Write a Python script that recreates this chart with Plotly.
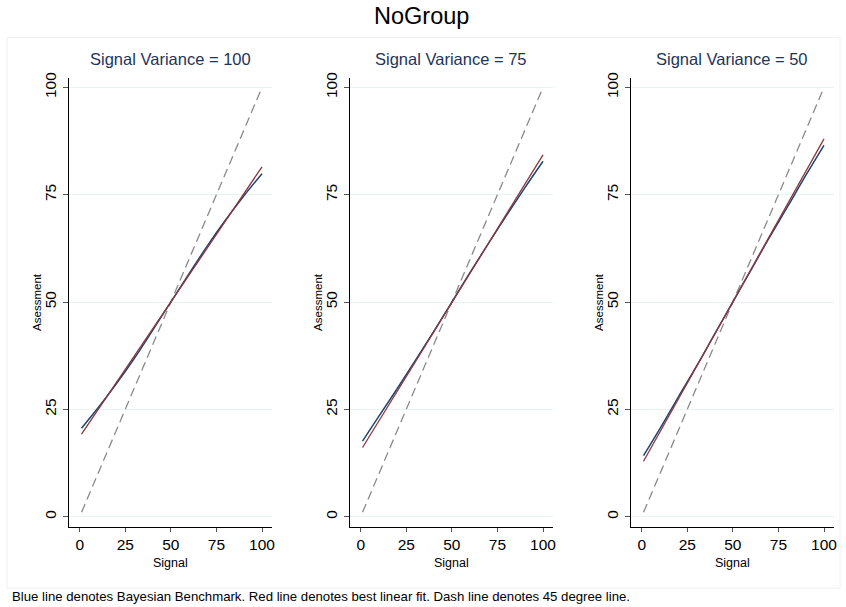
import plotly.graph_objects as go

# ---- data ----
panel_titles = ["Signal Variance = 100", "Signal Variance = 75", "Signal Variance = 50"]
signal = [1, 10, 20, 30, 40, 50, 60, 70, 80, 90, 100]
bayes_100 = [20.6, 25.3, 30.9, 36.9, 43.4, 50.0, 56.6, 63.1, 69.1, 74.7, 79.9]
fit_100 = [19.2, 24.9, 31.1, 37.4, 43.7, 50.0, 56.3, 62.6, 68.9, 75.2, 81.5]
bayes_75 = [17.6, 23.4, 29.8, 36.4, 43.1, 50.0, 56.9, 63.6, 70.2, 76.6, 82.8]
fit_75 = [16.1, 22.3, 29.2, 36.1, 43.0, 49.9, 56.8, 63.7, 70.6, 77.4, 84.3]
bayes_50 = [14.2, 20.5, 27.8, 35.0, 42.5, 50.0, 57.5, 65.0, 72.2, 79.5, 86.5]
fit_50 = [12.9, 19.7, 27.3, 34.9, 42.5, 50.0, 57.6, 65.2, 72.8, 80.4, 88.0]
diag_x = [1, 100]
diag_y = [1, 100]
tick_vals = [0, 25, 50, 75, 100]
tick_text = ["0", "25", "50", "75", "100"]

bayes = [bayes_100, bayes_75, bayes_50]
fits = [fit_100, fit_75, fit_50]

W, H = 846, 607
BLUE = "#1a476f"
RED = "#90353b"
FONT = "Liberation Sans, Arial, Helvetica, sans-serif"

fig = go.Figure()
annotations = []

for i in range(3):
    xa = "x" if i == 0 else f"x{i+1}"
    ya = "y" if i == 0 else f"y{i+1}"
    fig.add_trace(go.Scatter(x=diag_x, y=diag_y, xaxis=xa, yaxis=ya, mode="lines",
                             line=dict(color="#8a8a8a", width=1.3, dash="9px,5px"),
                             showlegend=False, hoverinfo="skip"))
    fig.add_trace(go.Scatter(x=signal, y=bayes[i], xaxis=xa, yaxis=ya, mode="lines",
                             line=dict(color=BLUE, width=1.5, shape="spline"),
                             showlegend=False))
    fig.add_trace(go.Scatter(x=signal, y=fits[i], xaxis=xa, yaxis=ya, mode="lines",
                             line=dict(color=RED, width=1.3),
                             showlegend=False))

    left = 69 + 282 * i
    right = 273 + 282 * i
    xdom = [left / W, right / W]
    ydom = [1 - 525.7 / H, 1 - 72.7 / H]
    key = "" if i == 0 else str(i + 1)
    fig.update_layout(**{
        f"xaxis{key}": dict(
            domain=xdom, range=[-6.0, 105.5], anchor=ya,
            tickvals=tick_vals, ticktext=tick_text, ticks="outside", ticklen=4,
            tickcolor="#555555", tickwidth=1,
            showline=True, linecolor="black", linewidth=1.3,
            showgrid=False, zeroline=False,
            tickfont=dict(size=15.5, color="black", family=FONT),
        ),
        f"yaxis{key}": dict(
            domain=ydom, range=[-2.3, 102.2], anchor=xa,
            tickvals=tick_vals, ticktext=tick_text, ticks="outside", ticklen=5,
            tickcolor="#555555", tickwidth=1, tickangle=-90,
            showline=True, linecolor="black", linewidth=1.3,
            showgrid=True, gridcolor="#eaf2f3", gridwidth=1.3, zeroline=False,
            tickfont=dict(size=15.5, color="black", family=FONT),
        ),
    })
    cx = (left + right) / 2 / W
    annotations.append(dict(text=panel_titles[i], x=cx, y=1 - 54 / H, xref="paper", yref="paper",
                            showarrow=False, xanchor="center", yanchor="middle",
                            font=dict(size=16.5, color="#1e3459", family=FONT)))
    annotations.append(dict(text="Signal", x=cx, y=1 - 563 / H, xref="paper", yref="paper",
                            showarrow=False, xanchor="center", yanchor="middle",
                            font=dict(size=12.5, color="black", family=FONT)))
    annotations.append(dict(text="Asessment", x=(37 + 282 * i) / W, y=1 - 299 / H,
                            xref="paper", yref="paper", textangle=-90,
                            showarrow=False, xanchor="center", yanchor="middle",
                            font=dict(size=11.5, color="black", family=FONT)))

annotations.append(dict(text="NoGroup", x=0.5, y=1 - 10 / H, xref="paper", yref="paper",
                        showarrow=False, xanchor="center", yanchor="middle",
                        font=dict(size=23.5, color="black", family=FONT)))
annotations.append(dict(text="Blue line denotes Bayesian Benchmark. Red line denotes best linear fit. Dash line denotes 45 degree line.",
                        x=10 / W, y=1 - 596 / H, xref="paper", yref="paper",
                        showarrow=False, xanchor="left", yanchor="middle",
                        font=dict(size=13.2, color="black", family=FONT)))

fig.update_layout(
    width=W, height=H,
    margin=dict(l=0, r=0, t=0, b=0),
    paper_bgcolor="white", plot_bgcolor="white",
    annotations=annotations,
    shapes=[dict(type="rect", xref="paper", yref="paper",
                 x0=7 / W, x1=843 / W, y0=1 - 588 / H, y1=1 - 32 / H,
                 line=dict(color="#f0f0f0", width=1), fillcolor="rgba(0,0,0,0)", layer="below")],
)

fig.write_html("out.html", config={"displayModeBar": False},
               post_script="document.body.style.margin='0';document.body.style.overflow='hidden';")
